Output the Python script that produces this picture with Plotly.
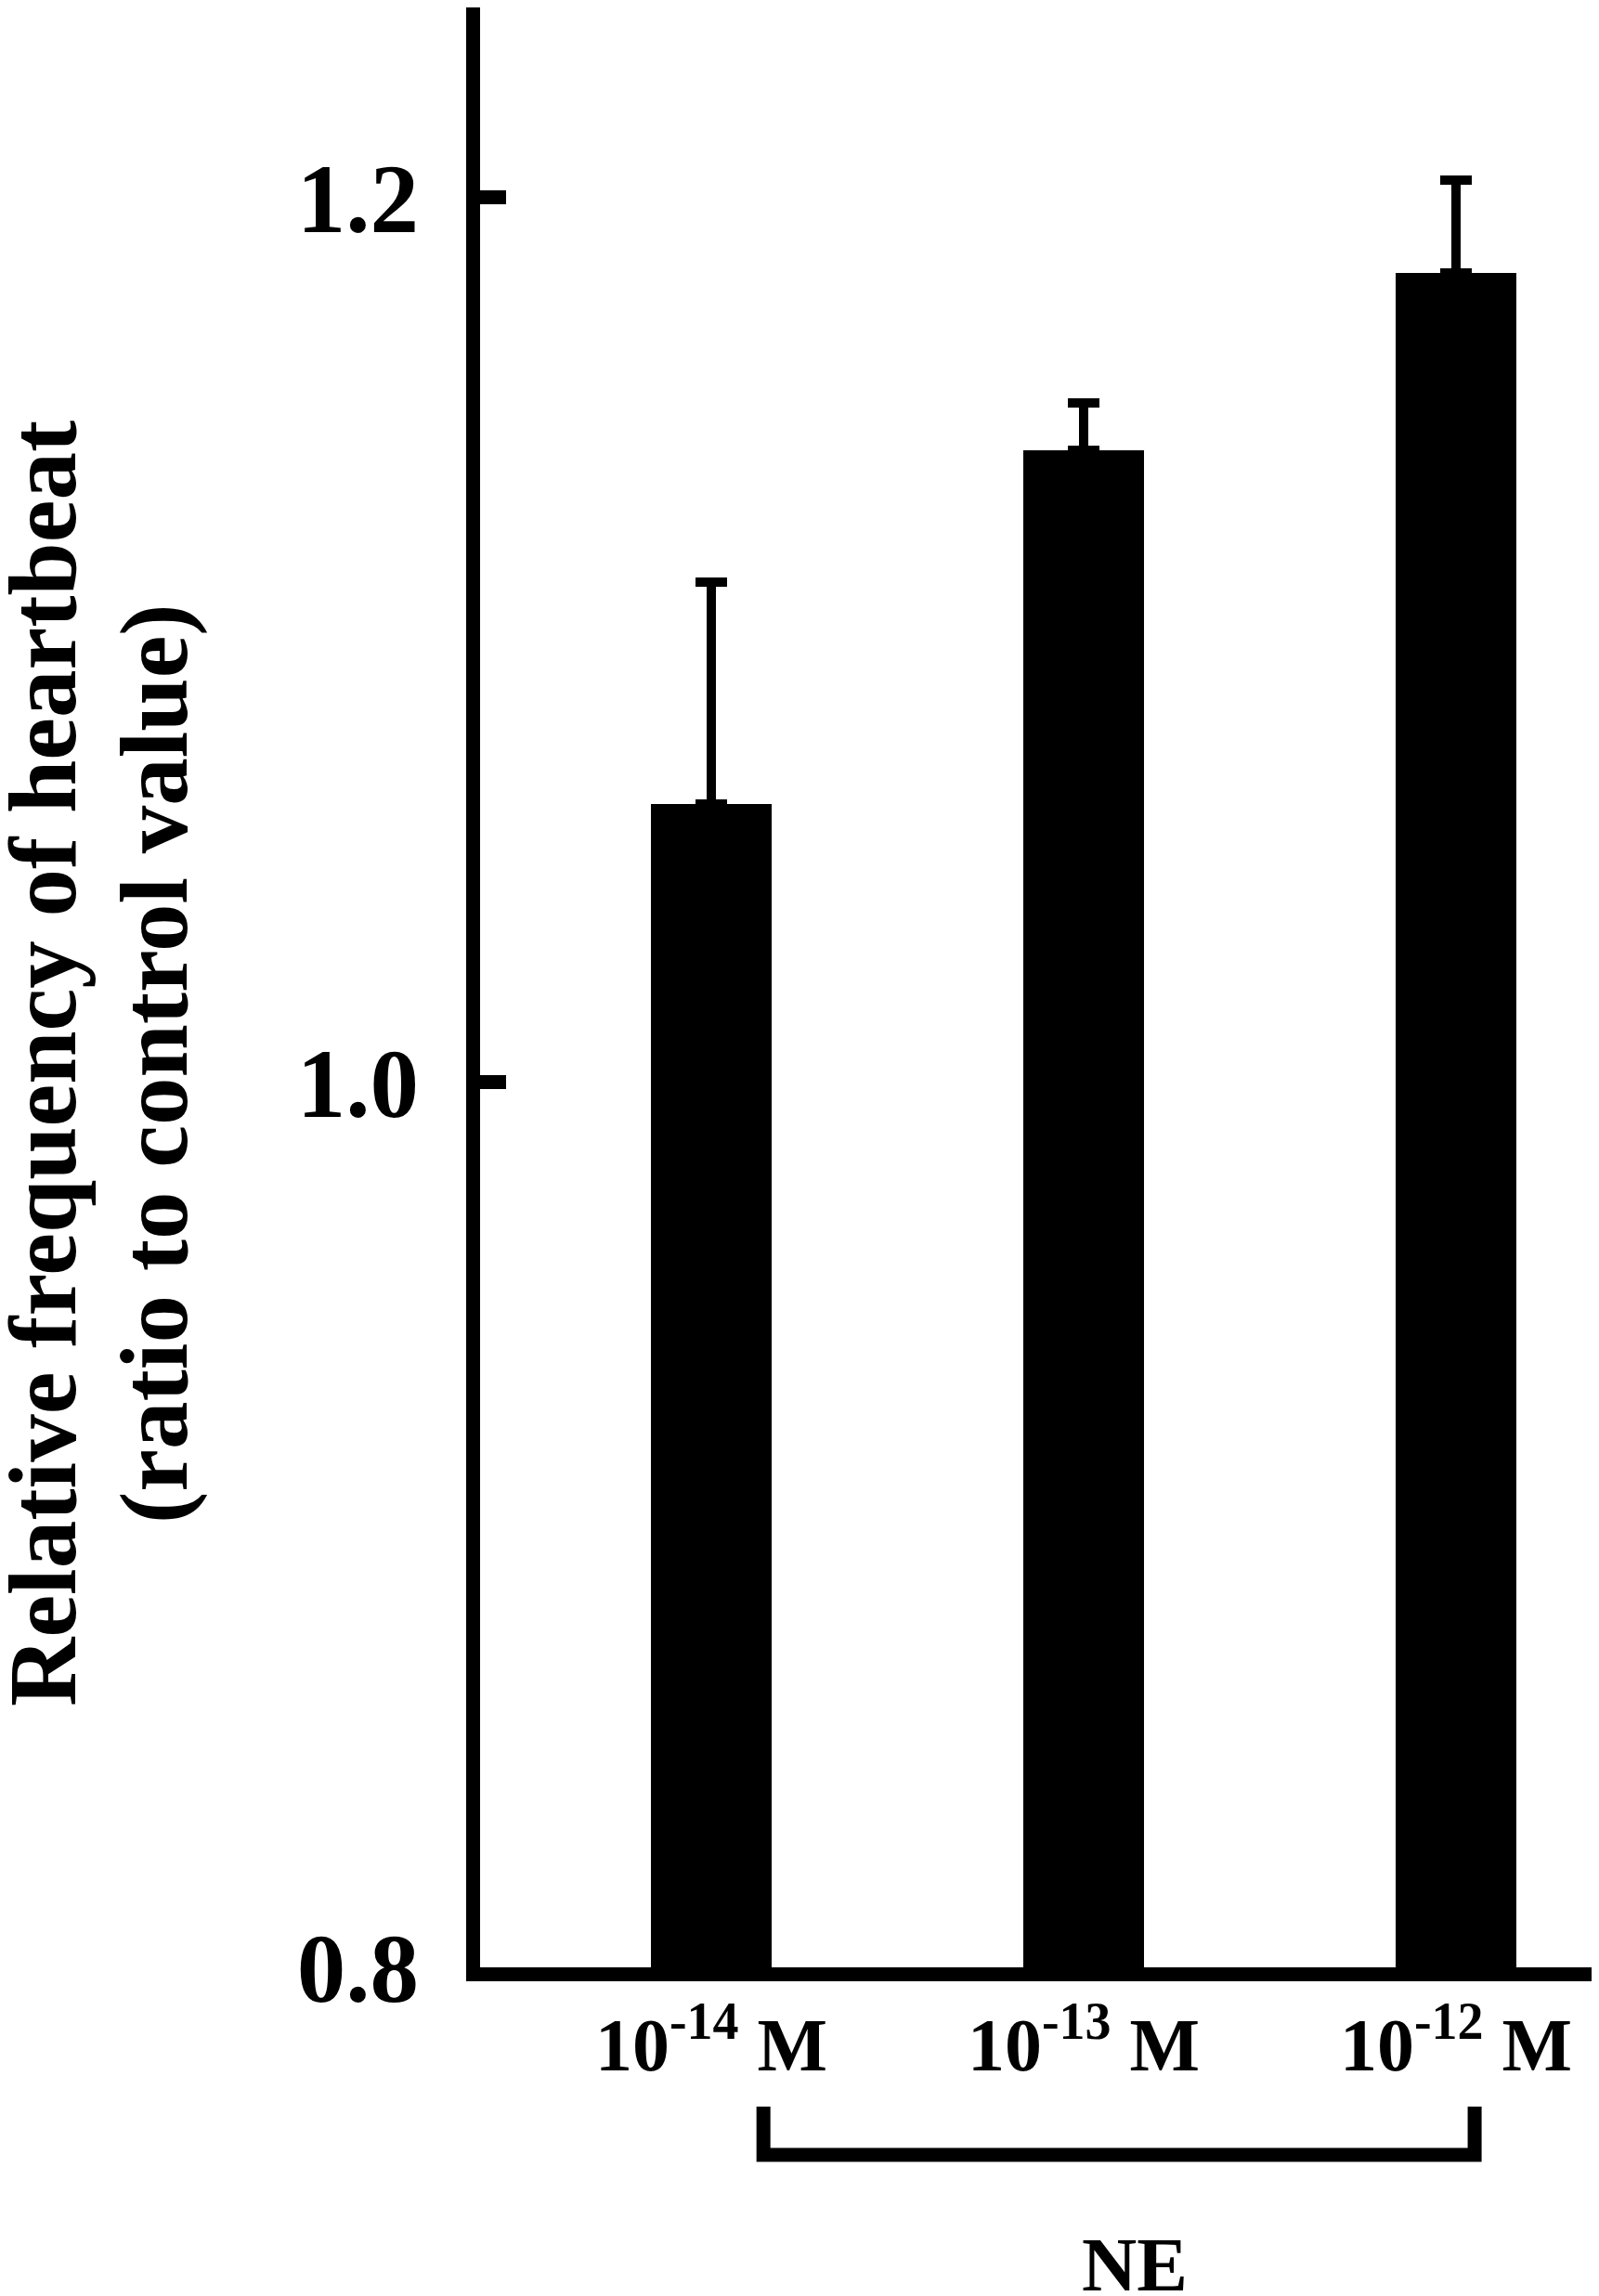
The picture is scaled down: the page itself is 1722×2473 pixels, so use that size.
import plotly.graph_objects as go

# Data
categories = ["10<sup>-14</sup> M", "10<sup>-13</sup> M", "10<sup>-12</sup> M"]
values = [1.063, 1.143, 1.183]
errors = [0.050, 0.0105, 0.021]
y_tick_vals = [0.8, 1.0, 1.2]
y_tick_text = ["0.8", "1.0", "1.2"]
y_title_lines = ["Relative frequency of heartbeat", "(ratio to control value)"]
group_label = "NE"

FONT = "Liberation Serif, Times New Roman, serif"
OFF = 8  # browser body margin
W, H = 1722 - OFF, 2473 - OFF
ML, MR, MT, MB = 517 - OFF, 6, 0, 354
PW, PH = W - ML - MR, H - MT - MB

def px_to_paper_x(px):
    # px given in page coordinates
    return (px - OFF - ML) / PW

def px_to_paper_y(py):
    return (H - MB - (py - OFF)) / PH

x_idx = list(range(len(categories)))

fig = go.Figure()
fig.add_trace(go.Bar(
    x=x_idx, y=values,
    width=0.324,
    marker=dict(color="black", line=dict(width=0)),
    error_y=dict(type="data", array=errors, symmetric=False, arrayminus=[0]*len(errors),
                 color="black", thickness=10, width=17),
))

fig.update_layout(
    width=W, height=H,
    margin=dict(l=ML, r=MR, t=MT, b=MB, autoexpand=False),
    paper_bgcolor="white", plot_bgcolor="white",
    showlegend=False,
    font=dict(family=FONT, color="black", weight="bold"),
    bargap=0,
)

fig.update_xaxes(
    range=[-0.621, 2.369],
    tickvals=x_idx, ticktext=categories,
    showline=True, linecolor="black", linewidth=15,
    ticks="", showgrid=False, zeroline=False,
    tickfont=dict(family=FONT, size=80, color="black", weight="bold"),
    ticklabelstandoff=0,
)
fig.update_yaxes(
    range=[0.8, 1.243],
    tickvals=y_tick_vals, ticktext=y_tick_text,
    showline=True, linecolor="black", linewidth=15,
    ticks="inside", ticklen=28, tickwidth=15, tickcolor="black",
    showgrid=False, zeroline=False,
    tickfont=dict(family=FONT, size=105, color="black", weight="bold"),
    ticklabelstandoff=30,
)

# y-axis title lines (rotated)
for line_text, cx in zip(y_title_lines, [46, 166]):
    fig.add_annotation(
        text=line_text, textangle=-90,
        xref="paper", yref="paper",
        x=px_to_paper_x(cx), y=px_to_paper_y(1146),
        xanchor="center", yanchor="middle", showarrow=False,
        font=dict(family=FONT, size=103, color="black", weight="bold"),
    )

# bracket under the tick labels
fig.add_shape(
    type="path",
    xref="x", yref="paper",
    path=f"M 0.14,{px_to_paper_y(2269)} L 0.14,{px_to_paper_y(2321)} L 2.05,{px_to_paper_y(2321)} L 2.05,{px_to_paper_y(2269)}",
    line=dict(color="black", width=15),
)

fig.add_annotation(
    text=group_label, xref="paper", yref="paper",
    x=px_to_paper_x(1222), y=px_to_paper_y(2439),
    xanchor="center", yanchor="middle", showarrow=False,
    font=dict(family=FONT, size=82, color="black", weight="bold"),
)

fig.write_html("out.html")
